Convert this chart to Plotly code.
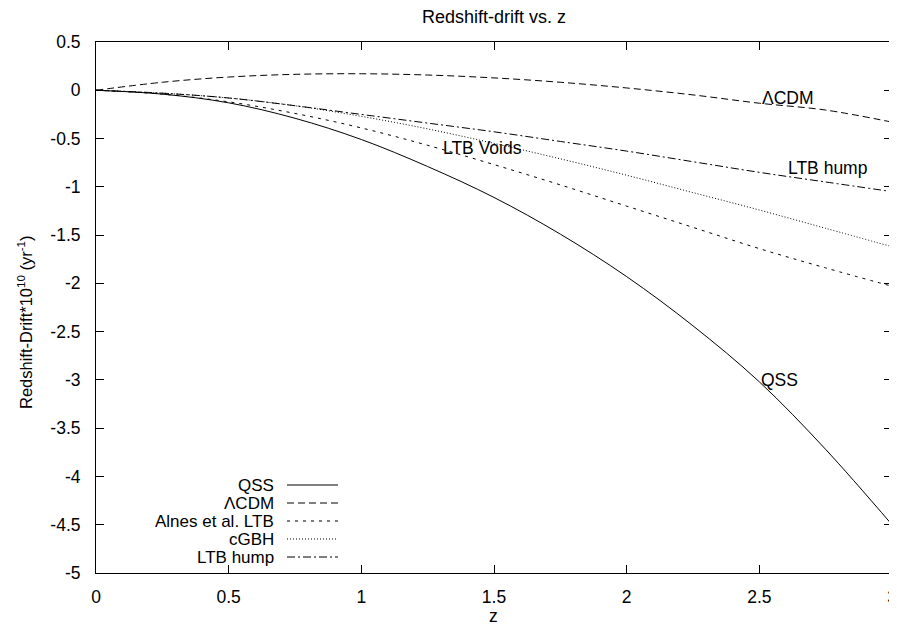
import plotly.graph_objects as go

# ---- data ----
z = [0, 0.25, 0.5, 0.75, 1.0, 1.25, 1.5, 1.75, 2.0, 2.25, 2.5, 2.75, 3.0]
qss = [0, -0.04, -0.13, -0.29, -0.51, -0.79, -1.11, -1.49, -1.93, -2.44, -3.02, -3.72, -4.50]
lcdm = [0, 0.083, 0.137, 0.165, 0.171, 0.158, 0.128, 0.083, 0.024, -0.048, -0.134, -0.205, -0.33]
alnes = [0, -0.04, -0.12, -0.24, -0.39, -0.57, -0.77, -0.98, -1.20, -1.42, -1.64, -1.84, -2.03]
cgbh = [0, -0.03, -0.08, -0.16, -0.27, -0.40, -0.55, -0.71, -0.88, -1.06, -1.24, -1.43, -1.62]
hump = [0, -0.03, -0.08, -0.16, -0.25, -0.34, -0.43, -0.53, -0.63, -0.74, -0.85, -0.95, -1.05]

names = ["QSS", "\u039bCDM", "Alnes et al. LTB", "cGBH", "LTB hump"]
series = [qss, lcdm, alnes, cgbh, hump]
dashes = ["solid", "7px,4px", "3px,5px", "1px,2px", "8px,3px,2px,3px"]

xticks = [0, 0.5, 1, 1.5, 2, 2.5, 3]
xticklabels = ["0", "0.5", "1", "1.5", "2", "2.5", "3"]
yticks = [0.5, 0, -0.5, -1, -1.5, -2, -2.5, -3, -3.5, -4, -4.5, -5]
yticklabels = ["0.5", "0", "-0.5", "-1", "-1.5", "-2", "-2.5", "-3", "-3.5", "-4", "-4.5", "-5"]

curve_labels = [("\u039bCDM", 2.503, -0.08), ("LTB hump", 2.6, -0.80),
                ("LTB Voids", 1.3, -0.60), ("QSS", 2.5, -3.0)]

# ---- layout geometry (screen pixels; the page body has an 8px margin) ----
OFF = 8
SW, SH = 897, 625
W, H = SW - OFF, SH - OFF
L, R, T, B = 96 - OFF, 892 - OFF, 42 - OFF, 573 - OFF
FONT = "Liberation Sans, Arial, Helvetica, sans-serif"
FS = 17.5


def px(x):
    return (x - OFF - L) / (R - L)


def py(y):
    return (B - (y - OFF)) / (B - T)


fig = go.Figure()
for n, s, d in zip(names, series, dashes):
    fig.add_trace(go.Scatter(x=z, y=s, mode="lines", name=n,
                             line=dict(color="black", width=1, dash=d, shape="spline"),
                             showlegend=False))

annotations = []
shapes = []
for text, xx, yy in curve_labels:
    annotations.append(dict(x=xx, y=yy, xref="x", yref="y", text=text, showarrow=False,
                            xanchor="left", yanchor="middle", font=dict(size=FS)))

# legend, drawn gnuplot-style (text right-aligned, sample line to the right)
rows = [485, 503, 521, 539, 557]
for n, d, ry in zip(names, dashes, rows):
    annotations.append(dict(x=px(276), y=py(ry), xref="paper", yref="paper", text=n,
                            showarrow=False, xanchor="right", yanchor="middle",
                            font=dict(size=17)))
    shapes.append(dict(type="line", xref="paper", yref="paper", x0=px(287), x1=px(338),
                       y0=py(ry), y1=py(ry), line=dict(color="black", width=1, dash=d)))

annotations.append(dict(x=px(25), y=py(322), xref="paper", yref="paper",
                        text="Redshift-Drift*10<sup>10</sup> (yr<sup>-1</sup>)",
                        textangle=-90, showarrow=False, xanchor="center", yanchor="middle",
                        font=dict(size=16.5)))
annotations.append(dict(x=px(493), y=py(616), xref="paper", yref="paper", text="z",
                        showarrow=False, xanchor="center", yanchor="middle",
                        font=dict(size=FS)))

axis_common = dict(showline=True, linecolor="black", linewidth=1, mirror="ticks",
                   ticks="inside", ticklen=8, tickcolor="black", tickwidth=1,
                   showgrid=False, zeroline=False, automargin=False,
                   tickfont=dict(size=FS, color="black"))

fig.update_layout(
    width=W, height=H,
    margin=dict(l=L, r=W - R, t=T, b=H - B),
    paper_bgcolor="white", plot_bgcolor="white",
    font=dict(family=FONT, size=FS, color="black"),
    title=dict(text="Redshift-drift vs. z", x=px(494), xref="paper", xanchor="center",
               y=1 - (17 - OFF) / H, yanchor="middle", font=dict(size=18),
               automargin=False),
    xaxis=dict(range=[0, 3], tickvals=xticks, ticktext=xticklabels,
               ticklabelstandoff=8, **axis_common),
    yaxis=dict(range=[-5, 0.5], tickvals=yticks, ticktext=yticklabels,
               ticklabelstandoff=11, **axis_common),
    annotations=annotations, shapes=shapes,
)

fig.write_html("out.html")
